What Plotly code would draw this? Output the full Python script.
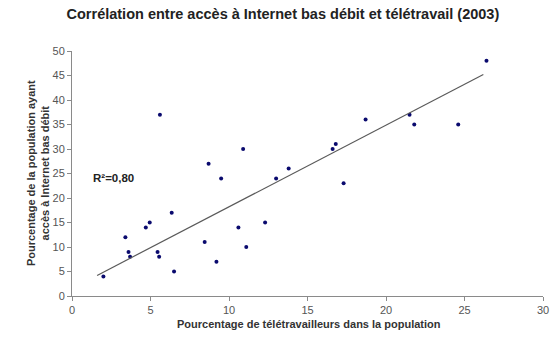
import plotly.graph_objects as go

# % de télétravailleurs / % population avec accès Internet bas débit
teletravail = [2.0, 3.4, 3.6, 3.7, 4.7, 4.95, 5.45, 5.55, 5.6, 6.35, 6.5, 8.45, 8.7,
               9.2, 9.5, 10.6, 10.9, 11.1, 12.3, 13.0, 13.8, 16.6, 16.8, 17.3, 18.7,
               21.5, 21.8, 24.6, 26.4]
acces_internet = [4, 12, 9, 8, 14, 15, 9, 8, 37, 17, 5, 11, 27,
                  7, 24, 14, 30, 10, 15, 24, 26, 30, 31, 23, 36,
                  37, 35, 35, 48]

# droite de tendance
trend_x = [1.6, 26.2]
trend_y = [4.2, 45.2]

r2_label = "R²=0,80"

font = "Liberation Sans, Arial, sans-serif"
axis_col = "#8a8a8a"

fig = go.Figure()
fig.add_trace(go.Scatter(x=teletravail, y=acces_internet, mode="markers",
                         marker=dict(color="#0a0a6e", size=4, symbol="circle"),
                         showlegend=False, hoverinfo="skip"))
fig.add_trace(go.Scatter(x=trend_x, y=trend_y, mode="lines",
                         line=dict(color="#5a5a5a", width=1.2),
                         showlegend=False, hoverinfo="skip"))

fig.add_annotation(x=1.2, y=24, xref="x", yref="y", text="<b>" + r2_label + "</b>",
                   showarrow=False, xanchor="left", yanchor="middle",
                   font=dict(family=font, size=11.5, color="#222"))
fig.add_annotation(x=-0.073, y=0.5, xref="paper", yref="paper",
                   text="<b>Pourcentage de la population ayant<br>accès à Internet bas débit</b>",
                   textangle=-90, showarrow=False, xanchor="center", yanchor="middle",
                   font=dict(family=font, size=11, color="#333"))
fig.add_annotation(x=0.503, y=-0.114, xref="paper", yref="paper",
                   text="<b>Pourcentage de télétravailleurs dans la population</b>",
                   showarrow=False, xanchor="center", yanchor="middle",
                   font=dict(family=font, size=11, color="#333"))

fig.update_layout(
    width=558, height=345,
    margin=dict(l=72, r=9, t=51, b=49),
    paper_bgcolor="white", plot_bgcolor="white",
    title=dict(text="<b>Corrélation entre accès à Internet bas débit et télétravail (2003)</b>",
               x=0.507, xanchor="center", y=0.959, yanchor="middle", yref="container",
               font=dict(family=font, size=14.5, color="#222")),
    xaxis=dict(range=[0, 30], dtick=5, showgrid=False, zeroline=False,
               showline=True, linecolor=axis_col, linewidth=1,
               ticks="outside", ticklen=4, tickcolor=axis_col,
               tickfont=dict(family=font, size=11, color="#555")),
    yaxis=dict(range=[0, 50], dtick=5, showgrid=False, zeroline=False,
               showline=True, linecolor=axis_col, linewidth=1,
               ticks="outside", ticklen=4, tickcolor=axis_col,
               tickfont=dict(family=font, size=11, color="#555")),
)

# la page a une marge de 8px par défaut : on la supprime
fig.write_html("out.html", config={"displayModeBar": False},
               post_script="document.body.style.margin='0';")
